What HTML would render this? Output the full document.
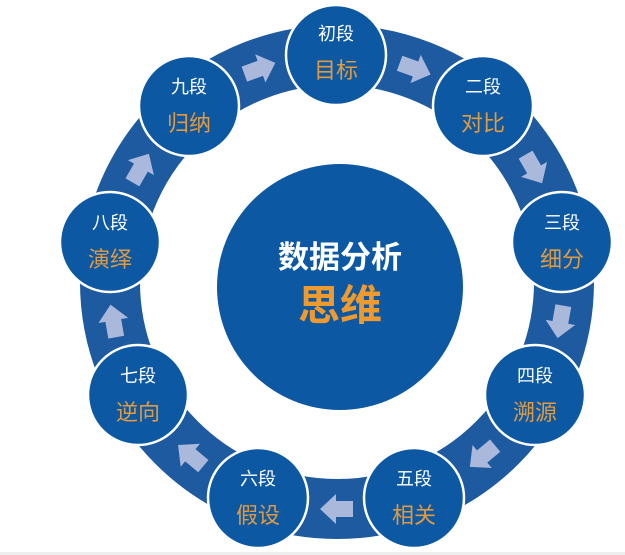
<!DOCTYPE html>
<html><head><meta charset="utf-8"><style>
html,body{margin:0;padding:0;background:#fff;}
svg{display:block;}
text{font-family:"Liberation Sans","Noto Sans CJK SC",sans-serif;text-anchor:middle;}
</style></head><body>
<svg width="625" height="555" viewBox="0 0 625 555">
<circle cx="337" cy="282" r="227" fill="none" stroke="#1d5a9f" stroke-width="60"/>
<g fill="#aab8dc" transform="translate(337,282)">
<g transform="rotate(20) translate(0,-227)"><polygon points="-16,-8 1,-8 1,-15 17,0 1,15 1,8 -16,8"/></g>
<g transform="rotate(60) translate(0,-227)"><polygon points="-16,-8 1,-8 1,-15 17,0 1,15 1,8 -16,8"/></g>
<g transform="rotate(100) translate(0,-227)"><polygon points="-16,-8 1,-8 1,-15 17,0 1,15 1,8 -16,8"/></g>
<g transform="rotate(140) translate(0,-227)"><polygon points="-16,-8 1,-8 1,-15 17,0 1,15 1,8 -16,8"/></g>
<g transform="rotate(180) translate(0,-227)"><polygon points="-16,-8 1,-8 1,-15 17,0 1,15 1,8 -16,8"/></g>
<g transform="rotate(220) translate(0,-227)"><polygon points="-16,-8 1,-8 1,-15 17,0 1,15 1,8 -16,8"/></g>
<g transform="rotate(260) translate(0,-227)"><polygon points="-16,-8 1,-8 1,-15 17,0 1,15 1,8 -16,8"/></g>
<g transform="rotate(300) translate(0,-227)"><polygon points="-16,-8 1,-8 1,-15 17,0 1,15 1,8 -16,8"/></g>
<g transform="rotate(340) translate(0,-227)"><polygon points="-16,-8 1,-8 1,-15 17,0 1,15 1,8 -16,8"/></g>
</g>
<circle cx="340" cy="287" r="123" fill="#0d58a3"/>
<text x="340" y="268" font-size="31" font-weight="bold" fill="#fff">数据分析</text>
<text x="340" y="320" font-size="42" font-weight="bold" fill="#ee9a2e">思维</text>
<g stroke="#fff" stroke-width="2.5" fill="#0d58a3">
<circle cx="336" cy="55" r="50"/>
<circle cx="483" cy="106" r="50"/>
<circle cx="562" cy="242" r="50"/>
<circle cx="535" cy="395" r="50"/>
<circle cx="414" cy="498" r="50"/>
<circle cx="258" cy="498" r="50"/>
<circle cx="138" cy="395" r="50"/>
<circle cx="110" cy="242" r="50"/>
<circle cx="189" cy="106" r="50"/>
</g>
<g font-size="18" fill="#fff">
<text x="336" y="40">初段</text>
<text x="483" y="93">二段</text>
<text x="562" y="229">三段</text>
<text x="535" y="382">四段</text>
<text x="414" y="485">五段</text>
<text x="258" y="485">六段</text>
<text x="138" y="382">七段</text>
<text x="110" y="229">八段</text>
<text x="189" y="93">九段</text>
</g>
<g font-size="22" fill="#e39a3c">
<text x="336" y="78">目标</text>
<text x="483" y="131">对比</text>
<text x="562" y="267">细分</text>
<text x="535" y="420">溯源</text>
<text x="414" y="523">相关</text>
<text x="258" y="523">假设</text>
<text x="138" y="420">逆向</text>
<text x="110" y="267">演绎</text>
<text x="189" y="131">归纳</text>
</g>
<rect x="0" y="552" width="625" height="3" fill="#eeeeee"/>
</svg>
</body></html>
